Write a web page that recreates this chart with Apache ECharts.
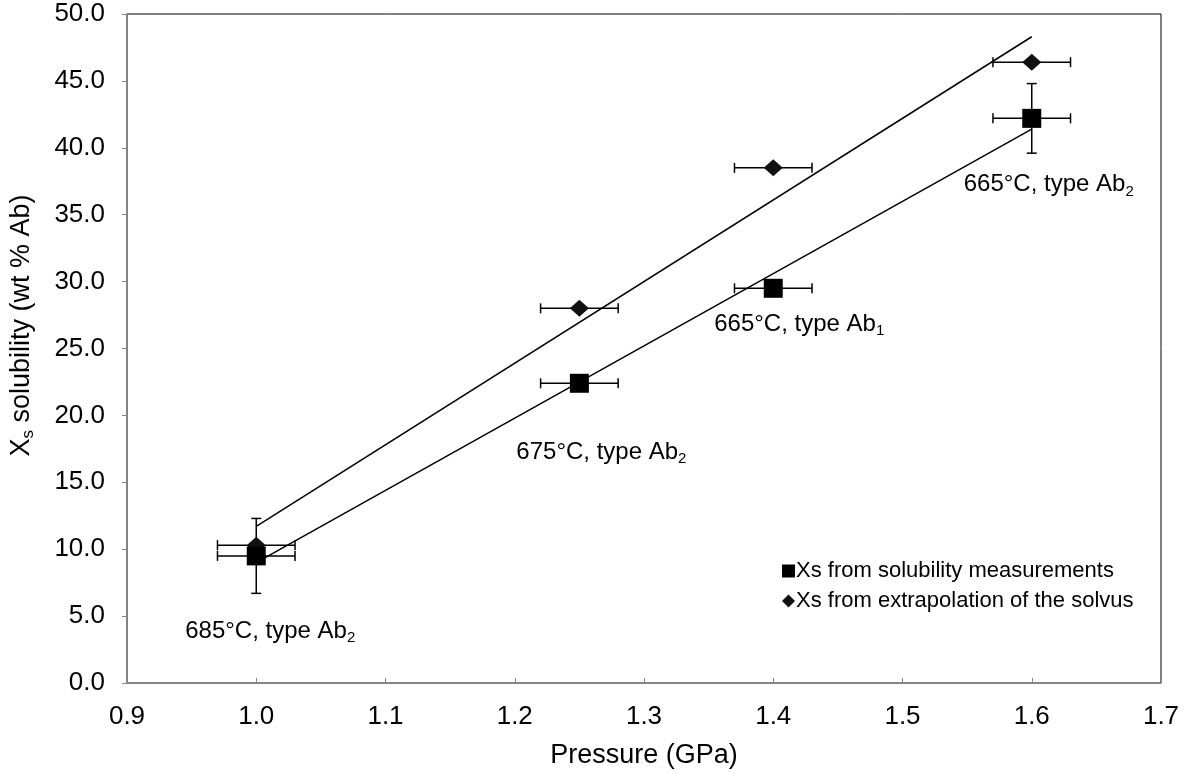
<!DOCTYPE html>
<html>
<head>
<meta charset="utf-8">
<script src="https://cdn.jsdelivr.net/npm/echarts@6/dist/echarts.min.js"></script>
<style>
html,body{margin:0;padding:0;background:#fff;}
#chart{width:1190px;height:774px;}
</style>
</head>
<body>
<div id="chart"></div>
<script>
const pressure = [1.0, 1.25, 1.4, 1.6];
const xsSolubility = [9.5, 22.4, 29.5, 42.2];
const xsSolvus = [10.3, 28.0, 38.5, 46.4];
const pressureErr = [0.03, 0.03, 0.03, 0.03];
const solubilityErr = [2.8, 0, 0, 2.6];
const solvusErr = [0, 0, 0, 0];
const fitSolubility = [[1.0, 9.0], [1.6, 41.4]];
const fitSolvus = [[1.0, 11.7], [1.6, 48.3]];
const pointLabels = [
  ['685°C, type Ab', '2'],
  ['675°C, type Ab', '2'],
  ['665°C, type Ab', '1'],
  ['665°C, type Ab', '2']
];
const xTicks = [0.9, 1.7, 0.1];
const yTicks = [0, 50, 5];

const FONT = '"Liberation Sans", Arial, Helvetica, sans-serif';
const chart = echarts.init(document.getElementById('chart'));

function errData(ys, yErr) {
  return pressure.map((p, i) => [p, ys[i], pressureErr[i], yErr[i]]);
}
function errRender(params, api) {
  const x = api.value(0), y = api.value(1), ex = api.value(2), ey = api.value(3);
  const c = api.coord([x, y]);
  const style = {stroke: '#000', lineWidth: 1.5, fill: null};
  const children = [];
  const cap = 5;
  if (ex > 0) {
    const l = api.coord([x - ex, y]), r = api.coord([x + ex, y]);
    children.push({type: 'line', shape: {x1: l[0], y1: c[1], x2: r[0], y2: c[1]}, style});
    children.push({type: 'line', shape: {x1: l[0], y1: c[1] - cap, x2: l[0], y2: c[1] + cap}, style});
    children.push({type: 'line', shape: {x1: r[0], y1: c[1] - cap, x2: r[0], y2: c[1] + cap}, style});
  }
  if (ey > 0) {
    const t = api.coord([x, y + ey]), b = api.coord([x, y - ey]);
    children.push({type: 'line', shape: {x1: c[0], y1: t[1], x2: c[0], y2: b[1]}, style});
    children.push({type: 'line', shape: {x1: c[0] - cap, y1: t[1], x2: c[0] + cap, y2: t[1]}, style});
    children.push({type: 'line', shape: {x1: c[0] - cap, y1: b[1], x2: c[0] + cap, y2: b[1]}, style});
  }
  return {type: 'group', children};
}

const labelOffsets = [[14, 75], [22, 69], [26, 36], [17, 66]];

const option = {
  animation: false,
  backgroundColor: '#fff',
  textStyle: {fontFamily: FONT},
  grid: {left: 125, right: 29, top: 14, bottom: 89, show: true, borderColor: '#000', borderWidth: 1, backgroundColor: 'transparent'},
  legend: {
    orient: 'vertical', left: 777, top: 555, itemWidth: 13, itemHeight: 13, itemGap: 8,
    textStyle: {fontSize: 22, color: '#000', fontFamily: FONT, padding: [0, 0, 0, -4]},
    data: [
      {name: 'Xs from solubility measurements', icon: 'rect'},
      {name: 'Xs from extrapolation of the solvus', icon: 'diamond'}
    ]
  },
  xAxis: {
    type: 'value', min: xTicks[0], max: xTicks[1], interval: xTicks[2],
    name: 'Pressure (GPa)', nameLocation: 'middle', nameGap: 59,
    nameTextStyle: {fontSize: 27, color: '#000', fontFamily: FONT},
    axisLine: {show: true, lineStyle: {color: '#868686', width: 1.5}},
    axisTick: {show: true, inside: true, length: 5, lineStyle: {color: '#868686'}},
    axisLabel: {fontSize: 26, color: '#000', margin: 21, formatter: v => v.toFixed(1), fontFamily: FONT},
    splitLine: {show: false}
  },
  yAxis: {
    type: 'value', min: yTicks[0], max: yTicks[1], interval: yTicks[2],
    name: '{a|X}{s|s}{a| solubility (wt % Ab)}', nameLocation: 'middle', nameGap: 90, nameRotate: 90,
    nameTextStyle: {
      fontSize: 27, color: '#000', fontFamily: FONT, padding: [0, 0, 0, 46],
      rich: {
        a: {fontSize: 27, color: '#000', fontFamily: FONT},
        s: {fontSize: 17, color: '#000', fontFamily: FONT, verticalAlign: 'bottom', padding: [14, 0, 0, 0]}
      }
    },
    axisLine: {show: true, lineStyle: {color: '#868686', width: 1.5}},
    axisTick: {show: true, inside: false, length: 5, lineStyle: {color: '#868686'}},
    axisLabel: {fontSize: 26, color: '#000', margin: 22, formatter: v => v.toFixed(1), fontFamily: FONT},
    splitLine: {show: false}
  },
  series: [
    {
      type: 'line', data: fitSolvus, symbol: 'none', silent: true,
      lineStyle: {color: '#000', width: 1.5}, z: 2
    },
    {
      type: 'line', data: fitSolubility, symbol: 'none', silent: true,
      lineStyle: {color: '#000', width: 1.5}, z: 2
    },
    {type: 'custom', renderItem: errRender, data: errData(xsSolvus, solvusErr), z: 3, silent: true},
    {type: 'custom', renderItem: errRender, data: errData(xsSolubility, solubilityErr), z: 3, silent: true},
    {
      name: 'Xs from extrapolation of the solvus', type: 'scatter', symbol: 'diamond', symbolSize: [19, 17],
      itemStyle: {color: '#111', opacity: 1}, z: 4,
      data: pressure.map((p, i) => [p, xsSolvus[i]])
    },
    {
      name: 'Xs from solubility measurements', type: 'scatter', symbol: 'rect', symbolSize: 19,
      itemStyle: {color: '#000', opacity: 1}, z: 5,
      data: pressure.map((p, i) => ({
        value: [p, xsSolubility[i]],
        label: {
          show: true, position: 'inside', offset: labelOffsets[i],
          formatter: '{a|' + pointLabels[i][0] + '}{s|' + pointLabels[i][1] + '}',
          rich: {
            a: {fontSize: 24, color: '#000', fontFamily: FONT},
            s: {fontSize: 15, color: '#000', fontFamily: FONT, verticalAlign: 'bottom', padding: [14, 0, 0, 0]}
          }
        }
      }))
    }
  ]
};
chart.setOption(option);
</script>
</body>
</html>
